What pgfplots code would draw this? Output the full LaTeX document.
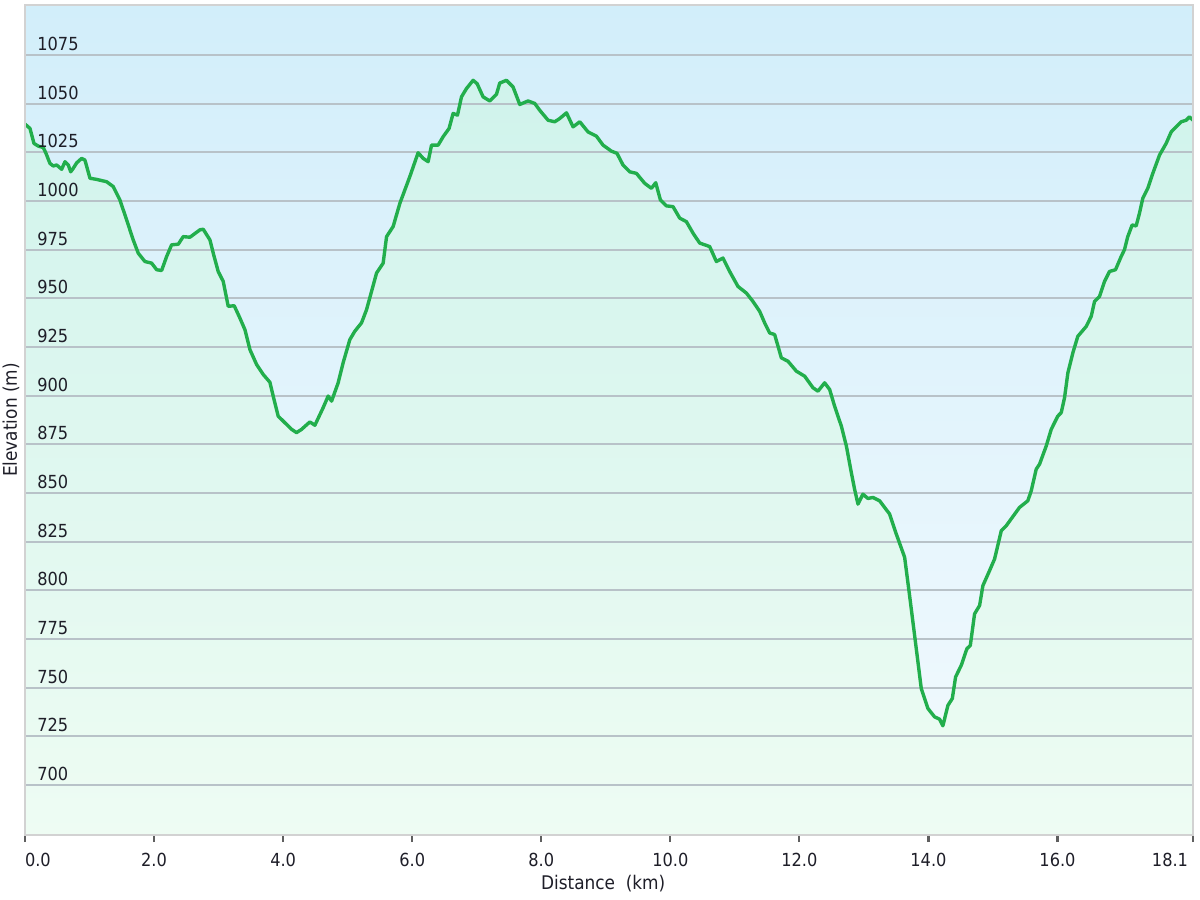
\documentclass[border=0pt]{standalone}
\usepackage{fontspec}
\setmainfont{DejaVu Sans Condensed}
\usepackage{pgfplots}
\usepackage{pgfplotstable}
\pgfplotsset{compat=1.18}
\definecolor{bgtop}{RGB}{210,238,250}
\definecolor{bgbot}{RGB}{243,250,254}
\definecolor{filltop}{RGB}{208,243,236}
\definecolor{fillbot}{RGB}{238,252,243}
\definecolor{lin}{RGB}{34,174,76}
\definecolor{gridc}{RGB}{184,194,200}
\definecolor{axdark}{RGB}{95,95,95}
\definecolor{txt}{RGB}{30,30,40}
\pgfplotstableread{
x y
0.000 1039.5
0.077 1037.3
0.139 1029.6
0.206 1028.2
0.283 1027.5
0.325 1024.5
0.387 1019.3
0.438 1018.0
0.491 1018.5
0.568 1016.3
0.620 1020.2
0.671 1018.5
0.708 1015.0
0.748 1016.8
0.801 1019.6
0.878 1021.9
0.929 1021.0
1.007 1011.7
1.111 1011.1
1.265 1009.9
1.368 1007.4
1.471 1000.5
1.575 990.3
1.677 980.0
1.755 973.2
1.859 968.9
1.962 968.1
2.040 964.7
2.117 964.3
2.195 971.5
2.272 977.5
2.375 977.8
2.452 981.7
2.556 981.4
2.711 985.2
2.762 985.5
2.866 980.0
2.917 973.2
2.994 963.8
3.072 958.7
3.149 945.9
3.242 946.2
3.330 939.9
3.408 933.9
3.485 923.7
3.589 916.0
3.691 910.9
3.795 906.9
3.846 899.8
3.923 889.5
4.027 886.1
4.131 882.7
4.208 881.0
4.286 882.7
4.414 886.5
4.492 884.8
4.620 893.8
4.698 899.8
4.751 897.2
4.853 906.6
4.930 916.9
5.034 928.8
5.111 933.1
5.215 937.4
5.293 944.2
5.448 963.0
5.550 968.1
5.603 981.7
5.705 986.9
5.809 998.8
5.963 1012.5
6.092 1024.8
6.170 1021.9
6.247 1020.2
6.300 1028.7
6.402 1028.7
6.479 1033.0
6.572 1037.3
6.634 1045.0
6.702 1044.1
6.764 1053.5
6.842 1057.8
6.944 1062.0
7.006 1060.3
7.099 1053.5
7.203 1051.4
7.306 1054.8
7.357 1060.6
7.461 1062.0
7.563 1058.6
7.667 1049.6
7.796 1051.4
7.900 1050.1
7.977 1046.6
8.106 1041.5
8.209 1040.7
8.287 1042.4
8.391 1045.3
8.493 1038.1
8.597 1040.7
8.725 1035.5
8.855 1033.3
8.958 1028.7
9.088 1025.6
9.174 1024.5
9.267 1018.5
9.371 1015.0
9.475 1014.2
9.603 1009.1
9.707 1006.5
9.774 1009.4
9.847 1000.5
9.940 997.5
10.042 997.1
10.146 991.2
10.249 989.4
10.352 983.5
10.455 978.4
10.610 976.6
10.714 968.9
10.816 970.7
10.920 963.8
11.049 956.1
11.179 952.7
11.281 948.4
11.385 943.3
11.462 937.4
11.540 932.2
11.617 931.4
11.721 919.4
11.823 917.7
11.953 912.6
12.082 910.0
12.210 904.1
12.288 902.3
12.392 906.6
12.469 903.2
12.546 894.6
12.650 884.4
12.728 874.2
12.805 860.5
12.856 851.9
12.908 844.3
12.985 849.4
13.062 847.2
13.140 847.7
13.243 846.0
13.398 839.2
13.502 828.9
13.631 817.0
13.708 797.3
13.786 776.8
13.889 749.5
13.992 739.3
14.095 735.0
14.173 733.8
14.224 730.4
14.302 740.9
14.370 744.4
14.421 755.5
14.509 761.5
14.596 770.0
14.649 771.7
14.715 787.9
14.793 792.2
14.844 802.4
14.947 810.1
15.025 816.1
15.129 830.6
15.206 833.2
15.412 842.6
15.540 846.0
15.593 851.1
15.670 862.2
15.722 864.8
15.826 874.2
15.903 882.7
16.005 889.5
16.058 891.3
16.109 898.9
16.161 911.7
16.238 922.0
16.315 930.5
16.446 935.6
16.523 940.8
16.574 948.4
16.651 951.0
16.729 958.7
16.806 963.8
16.899 964.7
16.987 971.5
17.038 975.0
17.089 981.7
17.157 987.7
17.219 987.2
17.270 993.7
17.322 1001.4
17.399 1006.5
17.477 1014.2
17.581 1023.6
17.684 1029.6
17.762 1035.5
17.839 1038.1
17.917 1040.7
17.994 1041.5
18.045 1043.2
18.100 1041.5
}\elev
\begin{document}
\begin{tikzpicture}
\begin{axis}[
  at={(0,0)}, anchor=south west,
  width=584bp, height=415bp, scale only axis,
  axis on top,
  xmin=0, xmax=18.1, ymin=674.3, ymax=1100.7,
  axis background/.style={top color=bgtop, bottom color=bgbot},
  axis line style={draw=gray!35, line width=0.8bp},
  xtick={0,2,4,6,8,10,12,14,16,18.1},
  xticklabels={\rlap{0.0},2.0,4.0,6.0,8.0,10.0,12.0,14.0,16.0,\llap{18.1\kern2.5bp}},
  xtick pos=bottom, tick align=outside, major tick length=3.5bp,
  x tick style={draw=axdark, line width=1.1bp},
  ytick={700,725,750,775,800,825,850,875,900,925,950,975,1000,1025,1050,1075},
  y tick style={draw=none},
  /pgf/number format/assume math mode=true,
  /pgf/number format/1000 sep={},
  tick label style={font=\fontsize{9bp}{11bp}\selectfont, text=txt},
  xticklabel style={anchor=north, inner sep=0pt, yshift=-5.5bp},
  yticklabel style={anchor=base west, inner sep=0pt, xshift=9.5bp, yshift=2.2bp},
  xlabel={Distance\ \ (km)},
  ylabel={Elevation (m)},
  every axis x label/.style={at={(axis description cs:0.495,-0.059)}, anchor=center, font=\fontsize{9.4bp}{11bp}\selectfont, text=txt},
  every axis y label/.style={at={(axis description cs:-0.012,0.5)}, anchor=center, rotate=90, font=\fontsize{9.4bp}{11bp}\selectfont, text=txt},
]
\addplot[draw=none, top color=filltop, bottom color=fillbot] table[x=x,y=y] {\elev} -- (axis cs:18.1,674.3) -- (axis cs:0,674.3) -- cycle;
\pgfplotsinvokeforeach{700,725,750,775,800,825,850,875,900,925,950,975,1000,1025,1050,1075}{
  \draw[gridc, line width=0.9bp] (axis cs:0,#1) -- (axis cs:18.1,#1);
}
\addplot[lin, line width=1.7bp, line join=round, mark=none] table[x=x,y=y] {\elev};
\draw[axdark, line width=1.2bp] (rel axis cs:0,1) -- (rel axis cs:0,0) -- (rel axis cs:1,0);
\end{axis}
\pgfresetboundingbox
\path[use as bounding box] (-12.5bp,-32.5bp) rectangle (587.5bp,417.5bp);
\end{tikzpicture}
\end{document}
